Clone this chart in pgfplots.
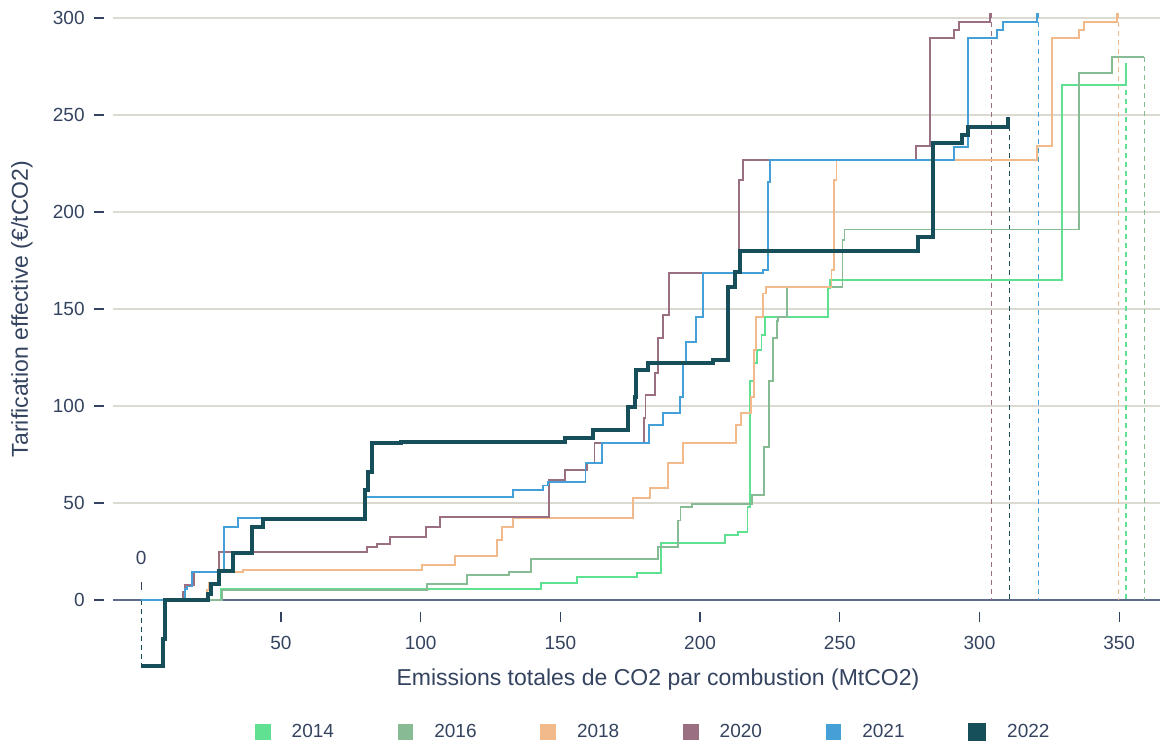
\documentclass[border=0pt]{standalone}
\usepackage{fontspec}
\setmainfont{Liberation Sans}
\usepackage{pgfplots}
\pgfplotsset{compat=1.18}
\definecolor{c2014}{HTML}{5FE191}
\definecolor{c2016}{HTML}{86BB93}
\definecolor{c2018}{HTML}{F2BA8A}
\definecolor{c2020}{HTML}{9B6F82}
\definecolor{c2021}{HTML}{46A0D8}
\definecolor{c2022}{HTML}{164F5A}
\definecolor{txt}{HTML}{34435F}
\definecolor{axl}{HTML}{5C6B8C}
\definecolor{grd}{HTML}{DADAD0}
\begin{document}
\begin{tikzpicture}
\useasboundingbox (-56.5pt,-73.5pt) rectangle (528pt,300pt);
\begin{axis}[
  at={(0pt,0pt)}, anchor=south west,
  scale only axis, width=523.5pt, height=291pt,
  xmin=-10.1, xmax=364.6, ymin=0, ymax=300,
  clip=false,
  axis x line*=bottom, axis y line*=left,
  x axis line style={color=axl, line width=0.75pt},
  y axis line style={draw=none},
  xtick={50,100,...,350}, ytick={0,50,...,300},
  ymajorgrids, grid style={color=grd, line width=0.6pt},
  tick align=outside, major tick length=5pt,
  tick style={color=txt, line width=0.6pt},
  every x tick/.append style={yshift=-6pt},
  every y tick/.append style={xshift=-4.5pt},
  /pgf/number format/assume math mode=true,
  tick label style={font=\fontsize{9.5}{11}\selectfont, text=txt},
  xticklabel style={anchor=center, inner sep=0pt, yshift=-16.5pt},
  yticklabel style={anchor=east, inner sep=0pt, xshift=-9pt},
  xlabel={Emissions totales de CO2 par combustion (MtCO2)},
  ylabel={Tarification effective (€/tCO2)},
  label style={font=\fontsize{11.5}{13}\selectfont, text=txt},
  xlabel style={at={(axis description cs:0.5205,-0.1375)}, anchor=center},
  ylabel style={at={(axis description cs:-0.0869,0.5)}, anchor=center},
  legend columns=6,
  legend image code/.code={\fill (0pt,-3.5pt) rectangle (7pt,3.5pt);},
  legend style={at={(0.515,-0.2268)}, anchor=center, draw=none, fill=none,
    font=\fontsize{9.5}{11}\selectfont, text=txt,
    nodes={inner sep=0pt, anchor=west},
    /tikz/every odd column/.append style={column sep=10.5pt},
    /tikz/every even column/.append style={column sep=31.8pt}},
]
% dashed end markers
\addplot[forget plot, c2014, line width=0.6pt, dash pattern=on 2.5pt off 2pt] coordinates {(352.4,276.8) (352.4,0)};
\addplot[forget plot, c2016, line width=0.6pt, dash pattern=on 2.5pt off 2pt] coordinates {(359,280) (359,0)};
\addplot[forget plot, c2018, line width=0.6pt, dash pattern=on 2.5pt off 2pt] coordinates {(349.7,302.6) (349.7,0)};
\addplot[forget plot, c2020, line width=0.6pt, dash pattern=on 2.5pt off 2pt] coordinates {(304.3,302.6) (304.3,0)};
\addplot[forget plot, c2021, line width=0.6pt, dash pattern=on 2.5pt off 2pt] coordinates {(321.2,302.6) (321.2,0)};
\addplot[forget plot, c2022, line width=0.6pt, dash pattern=on 2.5pt off 2pt] coordinates {(310.7,249) (310.7,0)};
\addplot[forget plot, c2022, line width=0.6pt, dash pattern=on 2.5pt off 2pt] coordinates {(0,0) (0,-34)};
\addplot[forget plot, txt, line width=0.6pt] coordinates {(0,5.2) (0,9.3)};
\node[text=txt, font=\fontsize{9.5}{11}\selectfont] at (axis cs:0,21.6) {0};

\addplot[const plot, c2014, line width=0.9pt] coordinates {
 (0,0) (28.5,5.8) (143,8.9) (156,11.9) (177.5,13.9) (186,29.4) (209,33.5)
 (213.6,35) (217,48) (217.8,113) (219.5,122) (220.5,129) (222,136.6)
 (223.3,146) (245.8,160.8) (246.5,165) (329.5,265.5) (352.4,276.8)};
\addlegendentry{2014}
\addplot[const plot, c2016, line width=0.9pt] coordinates {
 (0,0) (29,5.3) (102.3,8.2) (116.6,12.9) (131.6,14.6) (139.5,21.3) (185,27.5)
 (192,41) (193,48) (197,49.4) (218.6,54) (223,79) (224.7,113) (226,135)
 (227.5,144) (228,146) (231,161.3) (251,185.6) (251.7,191) (335.6,271.6)
 (347.5,280) (359,280)};
\addlegendentry{2016}
\addplot[const plot, c2018, line width=0.9pt] coordinates {
 (0,0) (23.5,5) (24.2,8.6) (28,14.4) (36.5,15.3) (100.5,18) (112.3,22.7)
 (127.3,30.9) (129,37.5) (133,42.3) (176,52.6) (182,57.7) (188.5,70.6)
 (193.9,81) (213,90) (214.6,96.4) (218.2,104.6) (219.2,129) (220,146)
 (222.5,158) (223.6,161.3) (247,170) (247.8,216.5) (248.8,226.8)
 (320.6,234) (325.9,289.7) (335.6,293.8) (337.4,298) (349.2,302.6)};
\addlegendentry{2018}
\addplot[const plot, c2020, line width=0.9pt] coordinates {
 (0,0) (15,4) (15.7,7.7) (19,14.4) (27.9,24.7) (80.7,27.5) (84.3,28.9)
 (89,32.6) (102,37.5) (107,42.7) (146,61.8) (151.6,67) (159.5,70.6)
 (162.2,81) (180,94) (180.5,105.6) (183.8,117) (185,135) (186.7,147)
 (188.9,168.5) (214,216.5) (215.5,226.8) (277.3,234) (282.3,289.7)
 (290.8,293.8) (292.7,298) (303.8,302.6)};
\addlegendentry{2020}
\addplot[const plot, c2021, line width=0.9pt] coordinates {
 (0,0) (15.7,5.5) (16.4,7) (18.2,14.4) (29.6,37.6) (34.7,42.3) (80,53)
 (133,56.7) (143.8,59) (145.6,60.8) (159,70.6) (164.9,81) (181.7,90)
 (186.6,96.4) (192.8,104.6) (193.8,122) (195,133) (198.5,146) (201,168.5)
 (222.5,170) (224.2,215.5) (225,226.8) (290.9,233.5) (295.9,289.7)
 (306.2,293.8) (308.5,298) (320.6,302.6)};
\addlegendentry{2021}
\addplot[const plot, c2022, line width=2pt] coordinates {
 (0,-34) (7.8,-20) (8.5,0) (24,3) (25,8) (28,15) (33,24) (39.6,37.6)
 (43.6,42) (80.1,56.7) (81,66) (82.5,81) (93,81.5) (151.6,83.5)
 (161.7,87.6) (174.3,99.5) (176.7,104.6) (177.2,118.6) (181.3,122)
 (204.6,123.7) (210,161.3) (212.5,169) (214.3,180) (278,187)
 (283.3,235.6) (293.7,239.7) (296,243.8) (310.2,249)};
\addlegendentry{2022}
\end{axis}
\end{tikzpicture}
\end{document}
